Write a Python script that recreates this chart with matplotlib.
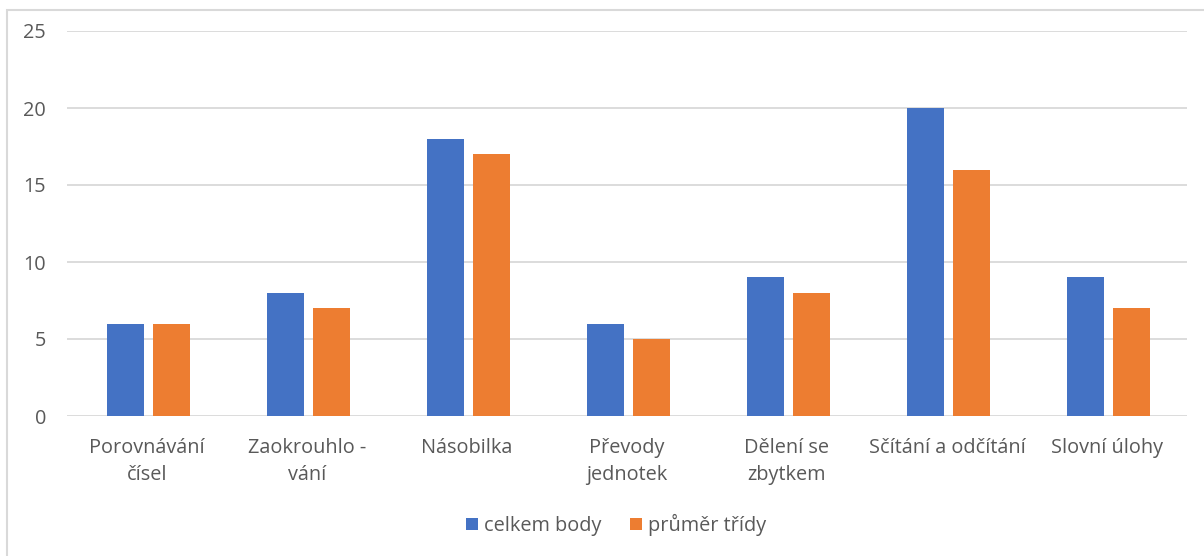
import numpy as np
import matplotlib.pyplot as plt
from matplotlib.patches import Rectangle

# Data
kategorie = ['Porovnávání\nčísel', 'Zaokrouhlo -\nvání', 'Násobilka', 'Převody\njednotek',
             'Dělení se\nzbytkem', 'Sčítání a odčítání', 'Slovní úlohy']
celkem_body = [6, 8, 18, 6, 9, 20, 9]
prumer_tridy = [6, 7, 17, 5, 8, 16, 7]

plt.rcParams['font.family'] = ['Open Sans', 'DejaVu Sans']
seda = '#595959'
fs = 14.3

fig = plt.figure(figsize=(12.04, 5.56), dpi=100)
ax = fig.add_axes([67/1204, 1-416/556, 1120/1204, 385/556])

x = np.arange(len(kategorie))
sirka = 0.231
posun = 0.144
ax.bar(x - posun + 0.012, celkem_body, sirka, color='#4472C4', label='celkem body', zorder=3)
ax.bar(x + posun + 0.012, prumer_tridy, sirka, color='#ED7D31', label='průměr třídy', zorder=3)

ax.set_xlim(-0.5, len(kategorie) - 0.5)
ax.set_ylim(0, 25)
ax.set_yticks([0, 5, 10, 15, 20, 25])
ax.yaxis.grid(True, color='#D9D9D9', linewidth=1.3, zorder=0)
for s in ax.spines.values():
    s.set_visible(False)
ax.set_xticks(x)
ax.set_xticklabels(kategorie, fontsize=fs, color=seda, linespacing=1.48)
ax.tick_params(axis='both', length=0, labelsize=fs, labelcolor=seda)
ax.tick_params(axis='x', pad=16)
ax.tick_params(axis='y', pad=15)

leg = fig.legend(loc='center', bbox_to_anchor=(616/1204, 1-525/556), ncol=2, frameon=False,
                 fontsize=fs, handlelength=0.6, handleheight=0.6, columnspacing=1.45,
                 handletextpad=0.3)
for t in leg.get_texts():
    t.set_color(seda)

# ramecek grafu
fig.patches.append(Rectangle((7/1204, -0.1), 1.2, 1-10/556 + 0.1, transform=fig.transFigure,
                             fill=False, edgecolor='#D9D9D9', linewidth=1.5))

fig.savefig('out.png')
